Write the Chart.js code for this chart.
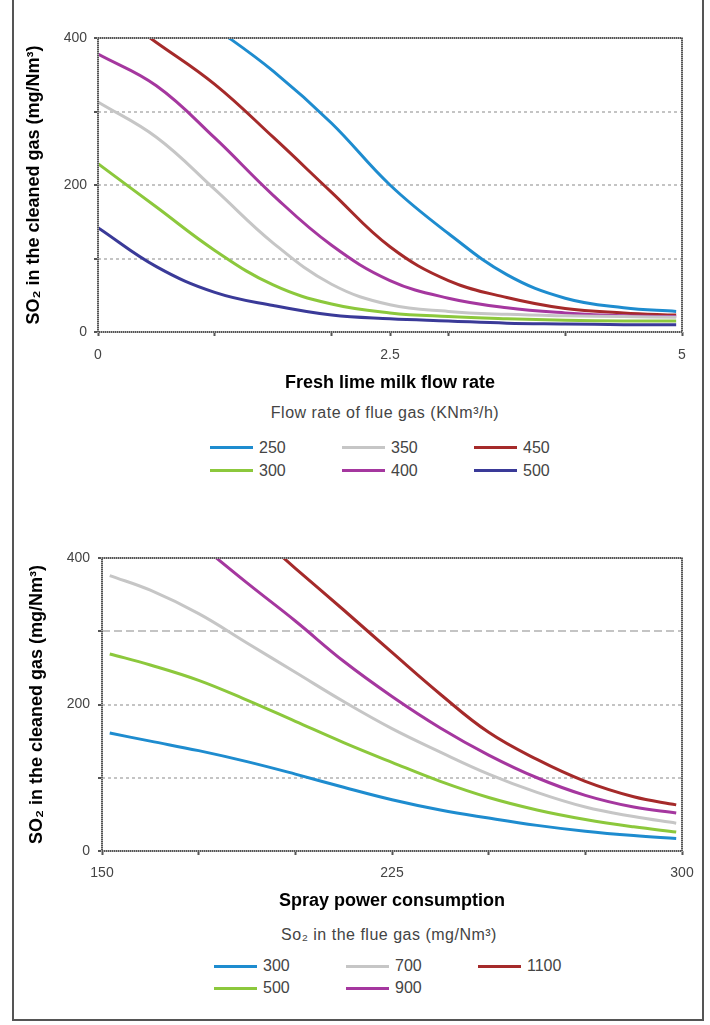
<!DOCTYPE html>
<html>
<head>
<meta charset="utf-8">
<title>SO2 in the cleaned gas</title>
<script src="https://cdn.jsdelivr.net/npm/chart.js@4.4.1/dist/chart.umd.min.js"></script>
<style>
  html, body { margin: 0; padding: 0; background: #fff; }
  body { width: 710px; height: 1025px; position: relative; overflow: hidden; font-family: "Liberation Sans", Arial, sans-serif; }
  .frame { position: absolute; left: 12px; top: -4px; width: 692px; height: 1025px; border: 2px solid #555; box-sizing: border-box; }
  canvas { position: absolute; left: 0; }
  #chart1 { top: 0; }
  #chart2 { top: 520px; }
  .legend-title { position: absolute; width: 400px; text-align: center; font-size: 16px; line-height: 18px; letter-spacing: 0.5px; color: #444; }
  .legend { position: absolute; display: grid; grid-auto-flow: column; grid-auto-columns: 132px; }
  .legend .item { display: flex; align-items: center; font-size: 16px; color: #444; }
  .legend .swatch { width: 43px; height: 3px; margin-right: 6px; }
</style>
</head>
<body>
<div class="frame"></div>
<canvas id="chart1" width="710" height="400"></canvas>
<div class="legend-title" style="left:185px; top:404px;">Flow rate of flue gas (KNm³/h)</div>
<div class="legend" id="legend1" style="left:210px; top:436px; grid-template-rows: repeat(2, 23px);"></div>

<canvas id="chart2" width="710" height="400"></canvas>
<div class="legend-title" style="left:189px; top:926px;">So₂ in the flue gas (mg/Nm³)</div>
<div class="legend" id="legend2" style="left:214px; top:955px; grid-template-rows: repeat(2, 22px);"></div>

<script>
// --- chart 1: fresh lime milk flow rate ---
const milkFlow = [0, 0.5, 1, 1.5, 2, 2.5, 3, 3.5, 4, 4.5, 4.95];
const flueFlowLabels = ['250', '300', '350', '400', '450', '500'];
const flow250 = [520, 470, 414, 355, 284, 200, 134, 78, 46, 33, 28];
const flow300 = [229, 170, 111, 64, 38, 26, 21, 18, 16, 15, 15];
const flow350 = [313, 265, 194, 121, 65, 37, 28, 24, 22, 21, 20];
const flow400 = [378, 335, 264, 186, 118, 70, 46, 33, 26, 22, 21];
const flow450 = [450, 394, 337, 265, 190, 116, 70, 47, 32, 26, 23];
const flow500 = [142, 89, 54, 36, 23, 18, 15, 12, 11, 10, 10];
const milkTicks = [0, 1, 2, 2.5, 3, 4, 5];
const milkTickLabels = ['0', '2.5', '5'];

// --- chart 2: spray power consumption ---
const sprayPower = [152, 162.5, 175, 187.5, 200, 212.5, 225, 237.5, 250, 262.5, 275, 287.5, 298.5];
const so2InLabels = ['300', '500', '700', '900', '1100'];
const so2In300 = [161, 150, 137, 122, 105, 87, 70, 56, 45, 35, 27, 21, 17];
const so2In500 = [269, 254, 233, 206, 177, 148, 121, 95, 73, 56, 43, 33, 26];
const so2In700 = [376, 356, 324, 284, 244, 204, 167, 135, 105, 80, 60, 47, 38];
const so2In900 = [525, 475, 420, 366, 314, 259, 211, 168, 131, 100, 76, 60, 52];
const so2In1100 = [610, 560, 502, 444, 386, 329, 271, 214, 162, 125, 95, 74, 63];
const sprayTicks = [150, 175, 200, 225, 250, 275, 300];
const sprayTickLabels = ['150', '225', '300'];

const yTicks = [0, 100, 200, 300, 400];
const yTickLabels = ['0', '200', '400'];

const BLUE = '#1e8ccf', GREEN = '#8cc83c', GREY = '#c6c6c6', MAGENTA = '#a5379f', DARKRED = '#a52a2a', NAVY = '#3a3a98';

Chart.defaults.font.family = '"Liberation Sans", Arial, sans-serif';
Chart.defaults.color = '#444';

const titleFont = { family: '"Liberation Sans", Arial, sans-serif', size: 18, weight: 'bold' };

// grey checkered border round the plot area
const plotFrame = {
    id: 'plotFrame',
    afterDatasetsDraw(chart) {
        const { ctx, chartArea: a } = chart;
        ctx.save();
        ctx.lineWidth = 2;
        ctx.strokeStyle = '#a8a8a8';
        ctx.strokeRect(a.left, a.top, a.right - a.left, a.bottom - a.top);
        ctx.setLineDash([1, 1]);
        ctx.strokeStyle = '#555';
        ctx.strokeRect(a.left, a.top, a.right - a.left, a.bottom - a.top);
        ctx.restore();
    }
};

function buildChart(id, cfg) {
    return new Chart(document.getElementById(id), {
        type: 'line',
        data: {
            datasets: cfg.series.map((s, i) => ({
                label: cfg.labels[i],
                data: cfg.x.map((x, j) => ({ x: x, y: s[j] })),
                borderColor: cfg.colors[i],
                borderWidth: 3,
                pointRadius: 0,
                fill: false,
                tension: 0.4,
                clip: 0
            }))
        },
        options: {
            responsive: false,
            animation: false,
            devicePixelRatio: 1,
            layout: { padding: { left: 0, right: 28, top: 38, bottom: 0 } },
            plugins: { legend: { display: false }, tooltip: { enabled: false } },
            scales: {
                x: {
                    type: 'linear',
                    min: cfg.xMin,
                    max: cfg.xMax,
                    afterBuildTicks: (scale) => { scale.ticks = cfg.xTicks.map(v => ({ value: v })); },
                    afterFit: (scale) => { scale.height = cfg.xAxisHeight; },
                    ticks: {
                        autoSkip: false,
                        maxRotation: 0,
                        padding: cfg.xTickPad,
                        font: { size: 14 },
                        color: '#444',
                        callback: (v) => cfg.xTickLabels.includes(String(v)) ? String(v) : ''
                    },
                    grid: { drawOnChartArea: false, drawTicks: true, tickLength: 4, tickColor: '#555', tickWidth: 2 },
                    border: { display: false },
                    title: { display: true, text: cfg.xTitle, font: titleFont, color: '#000', padding: { top: 0, bottom: cfg.xTitlePad } }
                },
                y: {
                    min: 0,
                    max: 400,
                    afterBuildTicks: (scale) => { scale.ticks = yTicks.map(v => ({ value: v })); },
                    afterFit: (scale) => { scale.width = cfg.yAxisWidth; },
                    ticks: {
                        padding: cfg.yTickPad,
                        font: { size: 14 },
                        color: '#444',
                        callback: (v) => yTickLabels.includes(String(v)) ? String(v) : ''
                    },
                    grid: {
                        color: (c) => (c.tick && c.tick.value > 0 && c.tick.value < 400) ? '#c4c4c4' : 'rgba(0,0,0,0)',
                        lineWidth: 2,
                        tickLength: 4,
                        tickColor: '#555',
                        tickWidth: 2
                    },
                    border: { display: false, dash: (c) => cfg.gridDash(c.tick ? c.tick.value : 0) },
                    title: { display: true, text: 'SO₂ in the cleaned gas (mg/Nm³)', font: titleFont, color: '#000', padding: { top: cfg.yTitlePad, bottom: 0 } }
                }
            }
        },
        plugins: [plotFrame]
    });
}

// legend under each chart, filled column by column like the original
function htmlLegend(chart, boxId) {
    const box = document.getElementById(boxId);
    chart.data.datasets.forEach(ds => {
        const item = document.createElement('div');
        item.className = 'item';
        const sw = document.createElement('span');
        sw.className = 'swatch';
        sw.style.background = ds.borderColor;
        item.appendChild(sw);
        item.appendChild(document.createTextNode(ds.label));
        box.appendChild(item);
    });
}

const limeChart = buildChart('chart1', {
    x: milkFlow,
    series: [flow250, flow300, flow350, flow400, flow450, flow500],
    labels: flueFlowLabels,
    colors: [BLUE, GREEN, GREY, MAGENTA, DARKRED, NAVY],
    xMin: 0, xMax: 5,
    xTicks: milkTicks, xTickLabels: milkTickLabels,
    xTitle: 'Fresh lime milk flow rate',
    xAxisHeight: 68, xTickPad: 11, xTitlePad: 6,
    yAxisWidth: 98, yTickPad: 7, yTitlePad: 23,
    gridDash: () => [3, 3]
});

const sprayChart = buildChart('chart2', {
    x: sprayPower,
    series: [so2In300, so2In500, so2In700, so2In900, so2In1100],
    labels: so2InLabels,
    colors: [BLUE, GREEN, GREY, MAGENTA, DARKRED],
    xMin: 150, xMax: 300,
    xTicks: sprayTicks, xTickLabels: sprayTickLabels,
    xTitle: 'Spray power consumption',
    xAxisHeight: 69, xTickPad: 10, xTitlePad: 8,
    yAxisWidth: 102, yTickPad: 8, yTitlePad: 26,
    gridDash: (v) => v === 300 ? [8, 4] : [3, 3]
});

htmlLegend(limeChart, 'legend1');
htmlLegend(sprayChart, 'legend2');
</script>
</body>
</html>
